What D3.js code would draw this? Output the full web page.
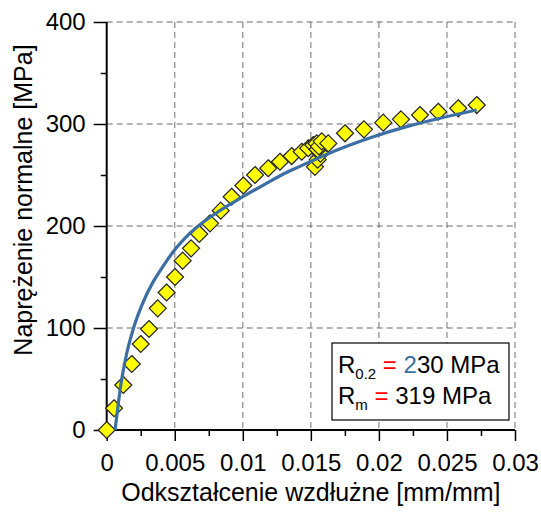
<!DOCTYPE html>
<html>
<head>
<meta charset="utf-8">
<script src="https://cdn.jsdelivr.net/npm/d3@7"></script>
<style>
  body { margin: 0; background: #fff; }
  text { font-family: "Liberation Sans", Arial, sans-serif; fill: #000; }
</style>
</head>
<body>
<svg id="chart" width="541" height="514"></svg>
<script>
// measured points (strain, stress)
const measStrain = [0, 0.00054, 0.00122, 0.00184, 0.0025, 0.00311, 0.00375, 0.0044, 0.00502, 0.00558,
    0.0062, 0.0068, 0.00759, 0.00838, 0.00918, 0.01004, 0.0109, 0.01187, 0.01273, 0.01359,
    0.01433, 0.01481, 0.01518, 0.01543, 0.0153, 0.0155, 0.0157, 0.0155, 0.0156, 0.0158,
    0.01628, 0.01751, 0.0189, 0.02032, 0.02162, 0.02302, 0.02436, 0.02583, 0.02719];
const measStress = [0, 21.3, 44.1, 64.7, 84.3, 99, 119.3, 134.8, 150, 166,
    178.1, 192.2, 202.6, 215, 228.7, 239.7, 250, 256.6, 263, 268.6,
    272.8, 276.2, 279.4, 281, 258, 265, 271, 275, 278, 283,
    281, 290.9, 294.8, 301.3, 304.6, 308.8, 312, 315.4, 318.6];

// fitted curve
const fitStrain = [0.00061, 0.0008, 0.00098, 0.00147, 0.00195, 0.00257, 0.0034, 0.00392, 0.0049, 0.0062,
    0.00808, 0.00979, 0.01176, 0.01298, 0.0142, 0.01543, 0.01665, 0.01788, 0.01959, 0.02204,
    0.02449, 0.02719];
const fitStress = [0, 20, 39, 75, 99, 122, 145, 156, 175, 194,
    213, 227, 242, 251, 258.5, 266, 273, 279.4, 287.5, 297.4,
    305.6, 313.7];

const xTicks = [0, 0.005, 0.01, 0.015, 0.02, 0.025, 0.03];
const xMinor = [0.0025, 0.0075, 0.0125, 0.0175, 0.0225, 0.0275];
const yTicks = [0, 100, 200, 300, 400];
const yMinor = [50, 150, 250, 350];

var svg = d3.select("#chart");

const plotLeft = 106.7, plotRight = 515, plotTop = 22, plotBottom = 430;

var x = d3.scaleLinear().domain([0, 0.03]).range([plotLeft, plotRight]);
var y = d3.scaleLinear().domain([0, 400]).range([plotBottom, plotTop]);

// dashed grid
svg.append("g").selectAll("line").data(xTicks.slice(1)).join("line")
    .attr("x1", d => x(d)).attr("x2", d => x(d))
    .attr("y1", plotTop).attr("y2", plotBottom)
    .attr("stroke", "#8a8a8a").attr("stroke-width", 1.2)
    .attr("stroke-dasharray", "6,4");
svg.append("g").selectAll("line").data(yTicks.slice(1)).join("line")
    .attr("x1", plotLeft).attr("x2", plotRight)
    .attr("y1", d => y(d)).attr("y2", d => y(d))
    .attr("stroke", "#6a6a6a").attr("stroke-width", 1.2)
    .attr("stroke-dasharray", "6,4");

// axes
var xAxis = svg.append("g").attr("transform", "translate(0," + plotBottom + ")")
    .call(d3.axisBottom(x).tickValues(xTicks).tickFormat(d => String(+d.toFixed(3))).tickSize(11).tickPadding(13));
var xAxisMinor = svg.append("g").attr("transform", "translate(0," + plotBottom + ")")
    .call(d3.axisBottom(x).tickValues(xMinor).tickFormat("").tickSize(6));
var yAxis = svg.append("g").attr("transform", "translate(" + plotLeft + ",0)")
    .call(d3.axisLeft(y).tickValues(yTicks).tickSize(13).tickPadding(8));
var yAxisMinor = svg.append("g").attr("transform", "translate(" + plotLeft + ",0)")
    .call(d3.axisLeft(y).tickValues(yMinor).tickFormat("").tickSize(6));

[xAxis, xAxisMinor, yAxis, yAxisMinor].forEach(g => {
    g.select(".domain").attr("stroke", "#000").attr("stroke-width", 2);
    g.selectAll(".tick line").attr("stroke", "#000").attr("stroke-width", 1.5);
    g.selectAll(".tick text").style("font-family", "Liberation Sans, Arial, sans-serif").style("font-size", "24px").attr("fill", "#000");
});
xAxis.select(".domain").attr("d", "M" + plotLeft + ",0H" + plotRight);
xAxisMinor.select(".domain").remove();
yAxis.select(".domain").attr("d", "M0," + plotBottom + "V" + plotTop);
yAxisMinor.select(".domain").remove();

// axis titles
svg.append("text")
    .attr("x", (plotLeft + plotRight) / 2).attr("y", 501)
    .attr("text-anchor", "middle")
    .style("font-size", "25px")
    .text("Odkształcenie wzdłużne [mm/mm]");

svg.append("text")
    .attr("transform", "translate(32," + 200 + ")rotate(-90)")
    .attr("text-anchor", "middle")
    .style("font-size", "25px")
    .text("Naprężenie normalne [MPa]");

// measured points as diamonds
const r = 8.5;
svg.append("g").selectAll("path").data(measStrain.map((s, i) => [s, measStress[i]])).join("path")
    .attr("d", "M0," + (-r) + "L" + r + ",0L0," + r + "L" + (-r) + ",0Z")
    .attr("transform", d => "translate(" + x(d[0]) + "," + y(d[1]) + ")")
    .attr("fill", "#ffff00")
    .attr("stroke", "#222")
    .attr("stroke-width", 1.2);

// fitted line
var line = d3.line().x(d => x(d[0])).y(d => y(d[1])).curve(d3.curveMonotoneX);
svg.append("path")
    .datum(fitStrain.map((s, i) => [s, fitStress[i]]))
    .attr("d", line)
    .attr("fill", "none")
    .attr("stroke", "#3b6fa3")
    .attr("stroke-width", 3.2);

// legend box
svg.append("rect")
    .attr("x", 332).attr("y", 343).attr("width", 177).attr("height", 77)
    .attr("fill", "#fff").attr("stroke", "#000").attr("stroke-width", 1.2);

var l1 = svg.append("text").attr("x", 338).attr("y", 373).style("font-size", "24px");
l1.append("tspan").text("R");
l1.append("tspan").attr("dy", 6).style("font-size", "15px").text("0.2");
l1.append("tspan").attr("dy", -6).style("fill", "#ff0000").text(" = ");
l1.append("tspan").style("fill", "#3b6fa3").text("2");
l1.append("tspan").text("30 MPa");

var l2 = svg.append("text").attr("x", 338).attr("y", 404).style("font-size", "24px");
l2.append("tspan").text("R");
l2.append("tspan").attr("dy", 6).style("font-size", "15px").text("m");
l2.append("tspan").attr("dy", -6).style("fill", "#ff0000").text(" = ");
l2.append("tspan").text("319 MPa");
</script>
</body>
</html>
